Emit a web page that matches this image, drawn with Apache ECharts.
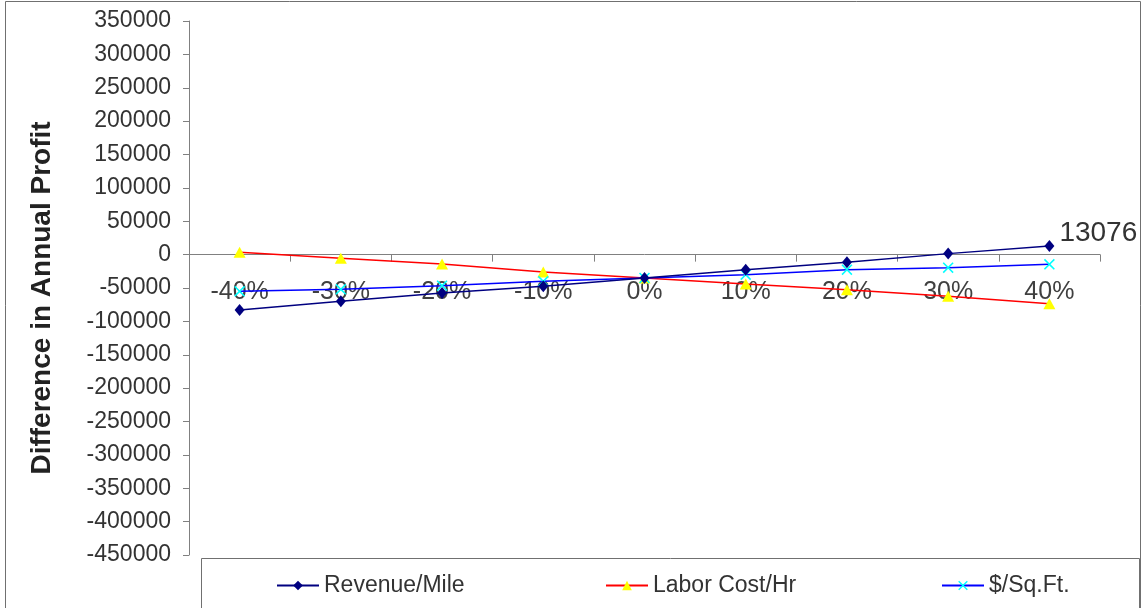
<!DOCTYPE html>
<html>
<head>
<meta charset="utf-8">
<script src="https://cdn.jsdelivr.net/npm/echarts@6/dist/echarts.min.js"></script>
<style>
  html, body { margin: 0; padding: 0; background: #fff; }
  #chart { width: 1148px; height: 608px; }
</style>
</head>
<body>
<div id="chart"></div>
<script>
// Change in each input parameter
const categories = ['-40%', '-30%', '-20%', '-10%', '0%', '10%', '20%', '30%', '40%'];

// Difference in annual profit for each sensitivity run
const revenuePerMile = [-83000, -70000, -57500, -47500, -35000, -22500, -11500, 1500, 13076];
const laborCostPerHr = [3500, -5500, -14000, -26000, -35000, -44000, -52500, -62500, -73500];
const dollarsPerSqFt = [-55000, -52000, -46500, -40000, -35000, -30000, -22500, -19500, -14500];

const seriesNames = ['Revenue/Mile', 'Labor Cost/Hr', '$/Sq.Ft.'];
const yTitle = 'Difference in Annual Profit';

const yMin = -450000, yMax = 350000, yStep = 50000;

const FONT = '"Liberation Sans", Arial, sans-serif';
const xSymbol = 'path://M0,1 L1,0 L5,4 L9,0 L10,1 L6,5 L10,9 L9,10 L5,6 L1,10 L0,9 L4,5 Z';

// plot box
const W = 1148, H = 608;
const gridLeft = 189, gridRight = 48, gridTop = 21, gridBottom = 53;
const plotH = H - gridTop - gridBottom;
// lift the category axis up to the value 0 line
const zeroOffset = -plotH * (0 - yMin) / (yMax - yMin);

const chart = echarts.init(document.getElementById('chart'), null, { renderer: 'canvas' });

const lastIdx = revenuePerMile.length - 1;

chart.setOption({
  backgroundColor: '#ffffff',
  animation: false,
  textStyle: { fontFamily: FONT },
  grid: { left: gridLeft, right: gridRight, top: gridTop, bottom: gridBottom, containLabel: false },
  graphic: [
    { type: 'rect', shape: { x: 5.5, y: 1.5, width: 1135, height: 610 },
      style: { fill: 'none', stroke: '#707070', lineWidth: 1 }, silent: true, z: -1 },
    { type: 'rect', shape: { x: 201.5, y: 558.5, width: 938, height: 60 },
      style: { fill: '#fff', stroke: '#707070', lineWidth: 1 }, silent: true, z: -1 },
    { type: 'text', x: 42, y: 298, rotation: Math.PI / 2, silent: true,
      style: { text: yTitle, font: 'bold 28px ' + FONT, fill: '#222',
               align: 'center', verticalAlign: 'middle' } }
  ],
  legend: seriesNames.map((name, i) => ({
    data: [name],
    left: [271, 600, 936][i],
    top: 569,
    itemWidth: 42,
    itemHeight: 12,
    itemGap: 0,
    textStyle: { fontSize: 23, color: '#333', fontFamily: FONT, padding: [0, 0, 0, 0] },
    selectedMode: false
  })),
  xAxis: {
    type: 'category',
    data: categories,
    boundaryGap: true,
    offset: zeroOffset,
    axisLine: { onZero: false, lineStyle: { color: '#808080', width: 1 } },
    axisTick: { show: true, length: 7, alignWithLabel: false, lineStyle: { color: '#808080' } },
    axisLabel: { fontSize: 25, color: '#404040', margin: 25, fontFamily: FONT },
    splitLine: { show: false }
  },
  yAxis: {
    type: 'value',
    min: yMin,
    max: yMax,
    interval: yStep,
    axisLine: { show: true, onZero: false, lineStyle: { color: '#808080', width: 1 } },
    axisTick: { show: true, length: 6, lineStyle: { color: '#808080' } },
    axisLabel: { fontSize: 23, color: '#333', margin: 18, fontFamily: FONT,
                 formatter: v => String(v) },
    splitLine: { show: false }
  },
  series: [
    {
      name: seriesNames[0],
      type: 'line',
      data: revenuePerMile.map((v, i) => i === lastIdx
        ? { value: v, label: { show: true } }
        : v),
      symbol: 'diamond',
      symbolSize: [10, 12],
      showAllSymbol: true,
      lineStyle: { color: '#000080', width: 1.5 },
      itemStyle: { color: '#000080' },
      label: {
        show: false,
        position: 'right',
        distance: 5,
        offset: [0, -13],
        fontSize: 28,
        color: '#333',
        fontFamily: FONT,
        formatter: p => String(p.value)
      },
      z: 3
    },
    {
      name: seriesNames[1],
      type: 'line',
      data: laborCostPerHr,
      symbol: 'triangle',
      symbolSize: [12, 11],
      showAllSymbol: true,
      lineStyle: { color: '#ff0000', width: 1.5 },
      itemStyle: { color: '#ffff00' },
      z: 2
    },
    {
      name: seriesNames[2],
      type: 'line',
      data: dollarsPerSqFt,
      symbol: xSymbol,
      symbolSize: 11,
      showAllSymbol: true,
      lineStyle: { color: '#0000ff', width: 1.5 },
      itemStyle: { color: '#00ffff' },
      z: 2
    }
  ]
});
</script>
</body>
</html>
